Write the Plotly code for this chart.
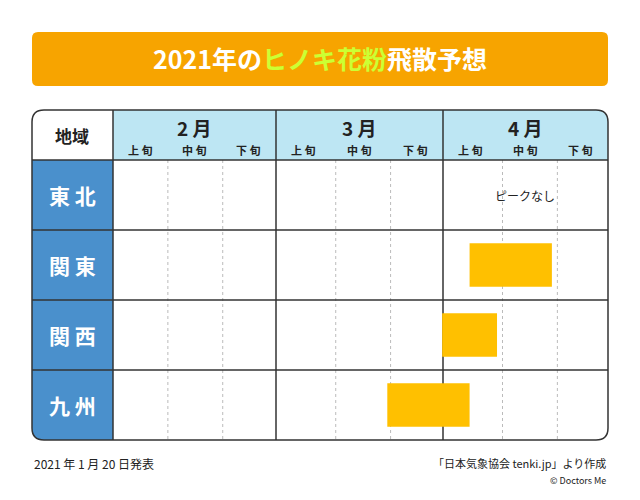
import plotly.graph_objects as go

# ── Data ────────────────────────────────────────────
regions = ["東北", "関東", "関西", "九州"]
months = ["2月", "3月", "4月"]
decades = ["上旬", "中旬", "下旬"]
# peak periods in decade units (0 = 2月上旬 start)
peak_start = [None, 6.5, 6.0, 5.0]
peak_end = [None, 8.0, 7.0, 6.5]
no_peak_note = {"東北": "ピークなし"}

# ── Geometry helpers (pixel -> data) ─────────────────
PXU = 54.86          # pixels per decade
X0 = 113             # pixel x of decade 0
ROW_H = 70
Y0 = 195             # pixel y of first row centre
OFF = 8              # page body margin


def dx(p):
    return (p - X0) / PXU


def dy(p):
    return (p - Y0) / ROW_H


LINE = "#333333"
BLUE = "#4A90CC"
LIGHT = "#BDE6F3"
ORANGE = "#F7A400"
BAR = "#FFC000"

fig = go.Figure()

# bars
bx, bb, by = [], [], []
for i, r in enumerate(regions):
    if peak_start[i] is not None:
        by.append(i)
        bb.append(peak_start[i])
        bx.append(peak_end[i] - peak_start[i])
fig.add_trace(go.Bar(x=bx, y=by, base=bb, orientation="h", width=0.62,
                     marker=dict(color=BAR, line_width=0), hoverinfo="skip"))

shapes = []


def rpath(x1, y1, x2, y2, r, corners):
    tl, tr, br, bl = corners
    p = f"M {dx(x1 + (r if tl else 0))},{dy(y1)} L {dx(x2 - (r if tr else 0))},{dy(y1)} "
    if tr:
        p += f"Q {dx(x2)},{dy(y1)} {dx(x2)},{dy(y1 + r)} "
    p += f"L {dx(x2)},{dy(y2 - (r if br else 0))} "
    if br:
        p += f"Q {dx(x2)},{dy(y2)} {dx(x2 - r)},{dy(y2)} "
    p += f"L {dx(x1 + (r if bl else 0))},{dy(y2)} "
    if bl:
        p += f"Q {dx(x1)},{dy(y2)} {dx(x1)},{dy(y2 - r)} "
    p += f"L {dx(x1)},{dy(y1 + (r if tl else 0))} "
    if tl:
        p += f"Q {dx(x1)},{dy(y1)} {dx(x1 + r)},{dy(y1)} "
    return p + "Z"


shapes.append(dict(type="path", path=rpath(32, 32, 608, 86, 6, (1, 1, 1, 1)),
                   fillcolor=ORANGE, line_width=0, layer="below"))
shapes.append(dict(type="path", path=rpath(113, 110, 608, 160, 12, (0, 1, 0, 0)),
                   fillcolor=LIGHT, line_width=0, layer="below"))
shapes.append(dict(type="path", path=rpath(32, 160, 113, 440, 12, (0, 0, 0, 1)),
                   fillcolor=BLUE, line_width=0, layer="below"))

# dotted decade lines
for xk in [1, 2, 4.06, 5.06, 7.1, 8.1]:
    shapes.append(dict(type="line", x0=xk, x1=xk, y0=dy(160), y1=dy(440), layer="below",
                       line=dict(color="#BBBBBB", width=1, dash="dot")))
for xp in [113, 276, 443]:
    shapes.append(dict(type="line", x0=dx(xp), x1=dx(xp), y0=dy(110), y1=dy(440), layer="below",
                       line=dict(color=LINE, width=1.5)))
for yp in [160, 230, 300, 370]:
    shapes.append(dict(type="line", x0=dx(32), x1=dx(608), y0=dy(yp), y1=dy(yp),
                       line=dict(color=LINE, width=1.5)))
shapes.append(dict(type="path", path=rpath(32, 110, 608, 440, 12, (1, 1, 1, 1)),
                   line=dict(color=LINE, width=1.5), fillcolor="rgba(0,0,0,0)"))

ann = []
FONT = "Noto Sans CJK JP"
ann.append(dict(x=dx(320), y=dy(58),
                text="<b>2021年の<span style='color:#CCFF33'>ヒノキ花粉</span>飛散予想</b>",
                font=dict(size=25, color="white", family=FONT), showarrow=False))
ann.append(dict(x=dx(72), y=dy(135), text="<b>地域</b>",
                font=dict(size=17, color="#222", family=FONT), showarrow=False))
month_edges = [(113, 276), (276, 443), (443, 608)]
for m, (a, b) in zip(months, month_edges):
    ann.append(dict(x=dx((a + b) / 2), y=dy(127), text="<b>" + m.replace("月", " 月") + "</b>",
                    font=dict(size=19, color="#222", family=FONT), showarrow=False))
    w = (b - a) / 3
    for j, d in enumerate(decades):
        ann.append(dict(x=dx(a + w * (j + 0.5)), y=dy(150), text="<b>" + " ".join(d) + "</b>",
                        font=dict(size=11, color="#222", family=FONT), showarrow=False))
for i, r in enumerate(regions):
    ann.append(dict(x=dx(72), y=i, text="<b>" + " ".join(r) + "</b>",
                    font=dict(size=21, color="white", family=FONT), showarrow=False))
    if r in no_peak_note:
        ann.append(dict(x=dx(525), y=i, text=no_peak_note[r],
                        font=dict(size=12, color="#222", family=FONT), showarrow=False))
ann.append(dict(x=dx(32), y=dy(463), text="2021 年 1 月 20 日発表", xanchor="left",
                font=dict(size=12, color="#222", family=FONT), showarrow=False))
ann.append(dict(x=dx(608), y=dy(463), text="「日本気象協会 tenki.jp」より作成", xanchor="right",
                font=dict(size=11, color="#222", family=FONT), showarrow=False))
ann.append(dict(x=dx(608), y=dy(480), text="© Doctors Me", xanchor="right",
                font=dict(size=9, color="#222", family=FONT), showarrow=False))

fig.update_layout(
    width=640, height=500,
    margin=dict(l=0, r=0, t=0, b=0),
    paper_bgcolor="white", plot_bgcolor="white",
    xaxis=dict(range=[dx(OFF), dx(640 + OFF)], visible=False, fixedrange=True),
    yaxis=dict(range=[dy(500 + OFF), dy(OFF)], visible=False, fixedrange=True),
    shapes=shapes, annotations=ann, showlegend=False,
)
fig.write_html("out.html", config={"displayModeBar": False})
